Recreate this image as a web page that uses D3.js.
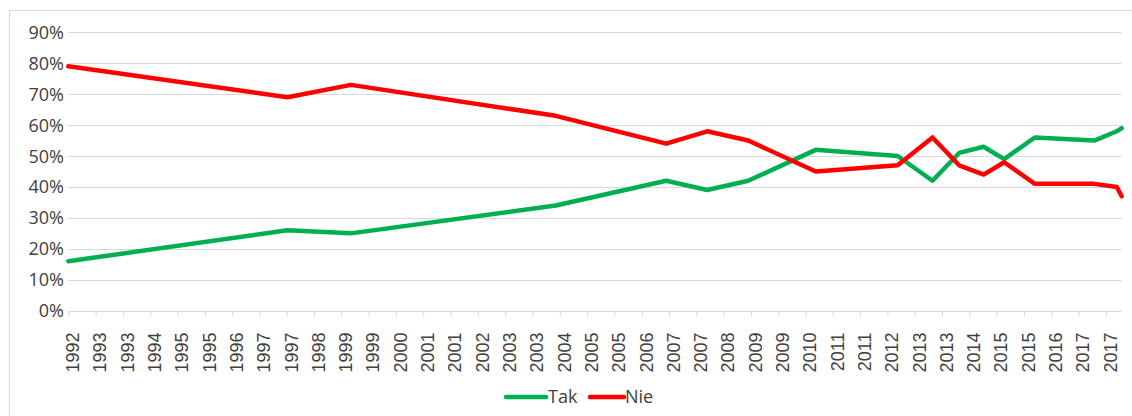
<!DOCTYPE html>
<html>
<head>
<meta charset="utf-8">
<script src="https://cdn.jsdelivr.net/npm/d3@7"></script>
<style>
  html, body { margin: 0; padding: 0; background: #fff; }
  svg { display: block; }
</style>
</head>
<body>
<svg id="chart" width="1132" height="416"></svg>
<script>
// ---- data ----
const tickLabels = ["1992","1993","1993","1994","1995","1995","1996","1997","1997","1998",
  "1999","1999","2000","2001","2001","2002","2003","2003","2004","2005","2005","2006",
  "2007","2007","2008","2009","2009","2010","2011","2011","2012","2013","2013","2014",
  "2015","2015","2016","2017","2017"];
const surveyDates = [1992.5, 1997.85, 1999.4, 2004.4, 2007.1, 2008.1, 2009.1, 2010.75,
  2012.75, 2013.6, 2014.25, 2014.85, 2015.35, 2016.1, 2017.55, 2018.1, 2018.22];
const takValues = [16, 26, 25, 34, 42, 39, 42, 52, 50, 42, 51, 53, 49, 56, 55, 58, 59];
const nieValues = [79, 69, 73, 63, 54, 58, 55, 45, 47, 56, 47, 44, 48, 41, 41, 40, 37];
const yTicks = [0, 10, 20, 30, 40, 50, 60, 70, 80, 90];
const seriesNames = ["Tak", "Nie"];
const seriesColors = ["#00B050", "#FF0000"];

// ---- layout ----
const axisStart = 1992.5, axisEnd = 2018.22, tickStep = 2 / 3;
const plotLeft = 68.3, plotRight = 1121.7, plotTop = 32.3, plotBottom = 310.7;

const svg = d3.select("#chart");
const x = d3.scaleLinear().domain([axisStart, axisEnd]).range([plotLeft, plotRight]);
const y = d3.scaleLinear().domain([0, 90]).range([plotBottom, plotTop]);

// outer border
svg.append("rect")
  .attr("x", 9.5).attr("y", 10.5)
  .attr("width", 1140).attr("height", 420)
  .attr("fill", "none").attr("stroke", "#D9D9D9").attr("stroke-width", 1);

// gridlines
svg.append("g").selectAll("line")
  .data(yTicks.filter(d => d > 0))
  .join("line")
  .attr("x1", plotLeft).attr("x2", plotRight)
  .attr("y1", d => Math.round(y(d)) + 0.5).attr("y2", d => Math.round(y(d)) + 0.5)
  .attr("stroke", "#D9D9D9").attr("stroke-width", 1);

// y labels
svg.append("g").selectAll("text")
  .data(yTicks)
  .join("text")
  .attr("x", 64).attr("y", d => y(d))
  .attr("dy", "0.36em")
  .attr("text-anchor", "end")
  .attr("font-family", "'Open Sans', 'Noto Sans', sans-serif")
  .attr("font-size", 18)
  .attr("fill", "#404040")
  .text(d => d + "%");

// x axis
const tickVals = tickLabels.map((_, i) => axisStart + i * tickStep);
const xAxis = d3.axisBottom(x)
  .tickValues(tickVals)
  .tickSize(5)
  .tickFormat((d, i) => tickLabels[i]);
const gx = svg.append("g")
  .attr("transform", `translate(0,${Math.round(plotBottom) + 0.5})`)
  .call(xAxis);
gx.select(".domain").attr("stroke", "#D9D9D9").attr("d", `M${plotLeft},0H${plotRight}`);
gx.selectAll(".tick line").attr("stroke", "#D9D9D9");
gx.selectAll(".tick text")
  .attr("font-family", "'Liberation Sans', Arial, sans-serif")
  .attr("font-size", 18)
  .attr("fill", "#404040")
  .attr("text-anchor", "end")
  .attr("transform", "translate(4,21) rotate(-90)")
  .attr("x", 0).attr("y", 0)
  .attr("dy", "0.35em");

// lines
const series = [takValues, nieValues];
const line = d3.line()
  .x((d, i) => x(surveyDates[i]))
  .y(d => y(d));
series.forEach((vals, si) => {
  svg.append("path")
    .datum(vals)
    .attr("fill", "none")
    .attr("stroke", seriesColors[si])
    .attr("stroke-width", 4.5)
    .attr("stroke-linejoin", "round")
    .attr("stroke-linecap", "round")
    .attr("d", line);
});

// legend
const legendItems = [{x: 506, len: 40, tx: 548}, {x: 590, len: 34, tx: 625}];
const lg = svg.append("g");
seriesNames.forEach((name, i) => {
  const it = legendItems[i];
  lg.append("line")
    .attr("x1", it.x).attr("x2", it.x + it.len)
    .attr("y1", 397).attr("y2", 397)
    .attr("stroke", seriesColors[i]).attr("stroke-width", 4.5)
    .attr("stroke-linecap", "round");
  lg.append("text")
    .attr("x", it.tx).attr("y", 397)
    .attr("dy", "0.36em")
    .attr("font-family", "'Open Sans', 'Noto Sans', sans-serif")
    .attr("font-size", 18)
    .attr("fill", "#404040")
    .text(name);
});
</script>
</body>
</html>
